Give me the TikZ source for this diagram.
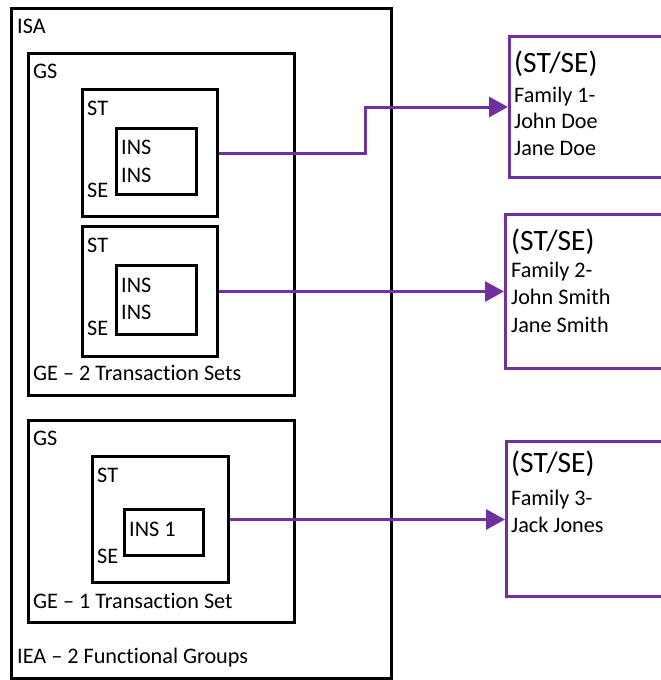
\documentclass[tikz,border=0pt]{standalone}
\usepackage{fontspec}
\setmainfont{Carlito}[Ligatures=NoCommon]
\usetikzlibrary{arrows.meta}
\definecolor{violet}{HTML}{7030A0}
\newcommand{\bodyfont}{\fontsize{22.2}{26}\selectfont}
\newcommand{\headfont}{\fontsize{29.5}{34}\selectfont}
\tikzset{
  frame/.style={draw=black, line width=3pt, rectangle, inner sep=0pt, anchor=north west},
  target/.style={draw=violet, line width=3pt, rectangle, inner sep=0pt, anchor=north west},
  lbl/.style={anchor=base west, inner sep=0pt, font=\bodyfont},
  head/.style={anchor=base west, inner sep=0pt, font=\headfont},
  conn/.style={draw=violet, line width=3pt, -{Triangle[length=19pt,width=20pt]}},
}
\begin{document}
\begin{tikzpicture}[x=1pt,y=-1pt]
\useasboundingbox (0,0) rectangle (661,680);

% interchange envelope
\node[frame, minimum width=380pt, minimum height=670pt] (isa) at (10,7) {};
\node[lbl] (isat) at (17,33) {ISA};
\node[lbl] (iea) at (17,663) {IEA – 2 Functional Groups};

% first functional group
\node[frame, minimum width=266pt, minimum height=342pt] (gs1) at (27,52) {};
\node[lbl] (gs1t) at (33,78) {GS};
\node[lbl] (ge1) at (33,380) {GE – 2 Transaction Sets};

\node[frame, minimum width=135pt, minimum height=127pt] (st1) at (81,88) {};
\node[lbl] (st1t) at (87,115) {ST};
\node[lbl] (se1) at (87,197) {SE};
\node[frame, minimum width=80pt, minimum height=66pt] (ins1) at (115,127) {};
\node[lbl] (ins1a) at (121,154) {INS};
\node[lbl] (ins1b) at (121,182) {INS};

\node[frame, minimum width=135pt, minimum height=130pt] (st2) at (81,225) {};
\node[lbl] (st2t) at (87,252) {ST};
\node[lbl] (se2) at (87,335) {SE};
\node[frame, minimum width=80pt, minimum height=69pt] (ins2) at (115,264) {};
\node[lbl] (ins2a) at (121,292) {INS};
\node[lbl] (ins2b) at (121,319) {INS};

% second functional group
\node[frame, minimum width=266pt, minimum height=202pt] (gs2) at (27,419) {};
\node[lbl] (gs2t) at (33,445) {GS};
\node[lbl] (ge2) at (33,608) {GE – 1 Transaction Set};

\node[frame, minimum width=136pt, minimum height=126pt] (st3) at (91,455) {};
\node[lbl] (st3t) at (97,482) {ST};
\node[lbl] (se3) at (97,563) {SE};
\node[frame, minimum width=79pt, minimum height=46pt] (ins3) at (123,508) {};
\node[lbl] (ins3a) at (129,536) {INS 1};

% family transaction sets
\node[target, minimum width=200pt, minimum height=141pt] (fam1) at (508,35) {};
\node[head] (fam1h) at (514,72) {(ST/SE)};
\node[lbl] (fam1a) at (514,102) {Family 1-};
\node[lbl] (fam1b) at (514,128) {John Doe};
\node[lbl] (fam1c) at (514,155) {Jane Doe};

\node[target, minimum width=200pt, minimum height=154pt] (fam2) at (504,213) {};
\node[head] (fam2h) at (511,250) {(ST/SE)};
\node[lbl] (fam2a) at (511,277) {Family 2-};
\node[lbl] (fam2b) at (511,304) {John Smith};
\node[lbl] (fam2c) at (511,332) {Jane Smith};

\node[target, minimum width=200pt, minimum height=155pt] (fam3) at (505,440) {};
\node[head] (fam3h) at (511,472) {(ST/SE)};
\node[lbl] (fam3a) at (511,505) {Family 3-};
\node[lbl] (fam3b) at (511,532) {Jack Jones};

% connectors
\draw[conn] (st1.east) -- ++(146,0) |- (fam1.west);
\draw[conn] (st2.east) -- (st2.east -| fam2.west);
\draw[conn] (st3.east) -- (st3.east -| fam3.west);
\end{tikzpicture}
\end{document}
